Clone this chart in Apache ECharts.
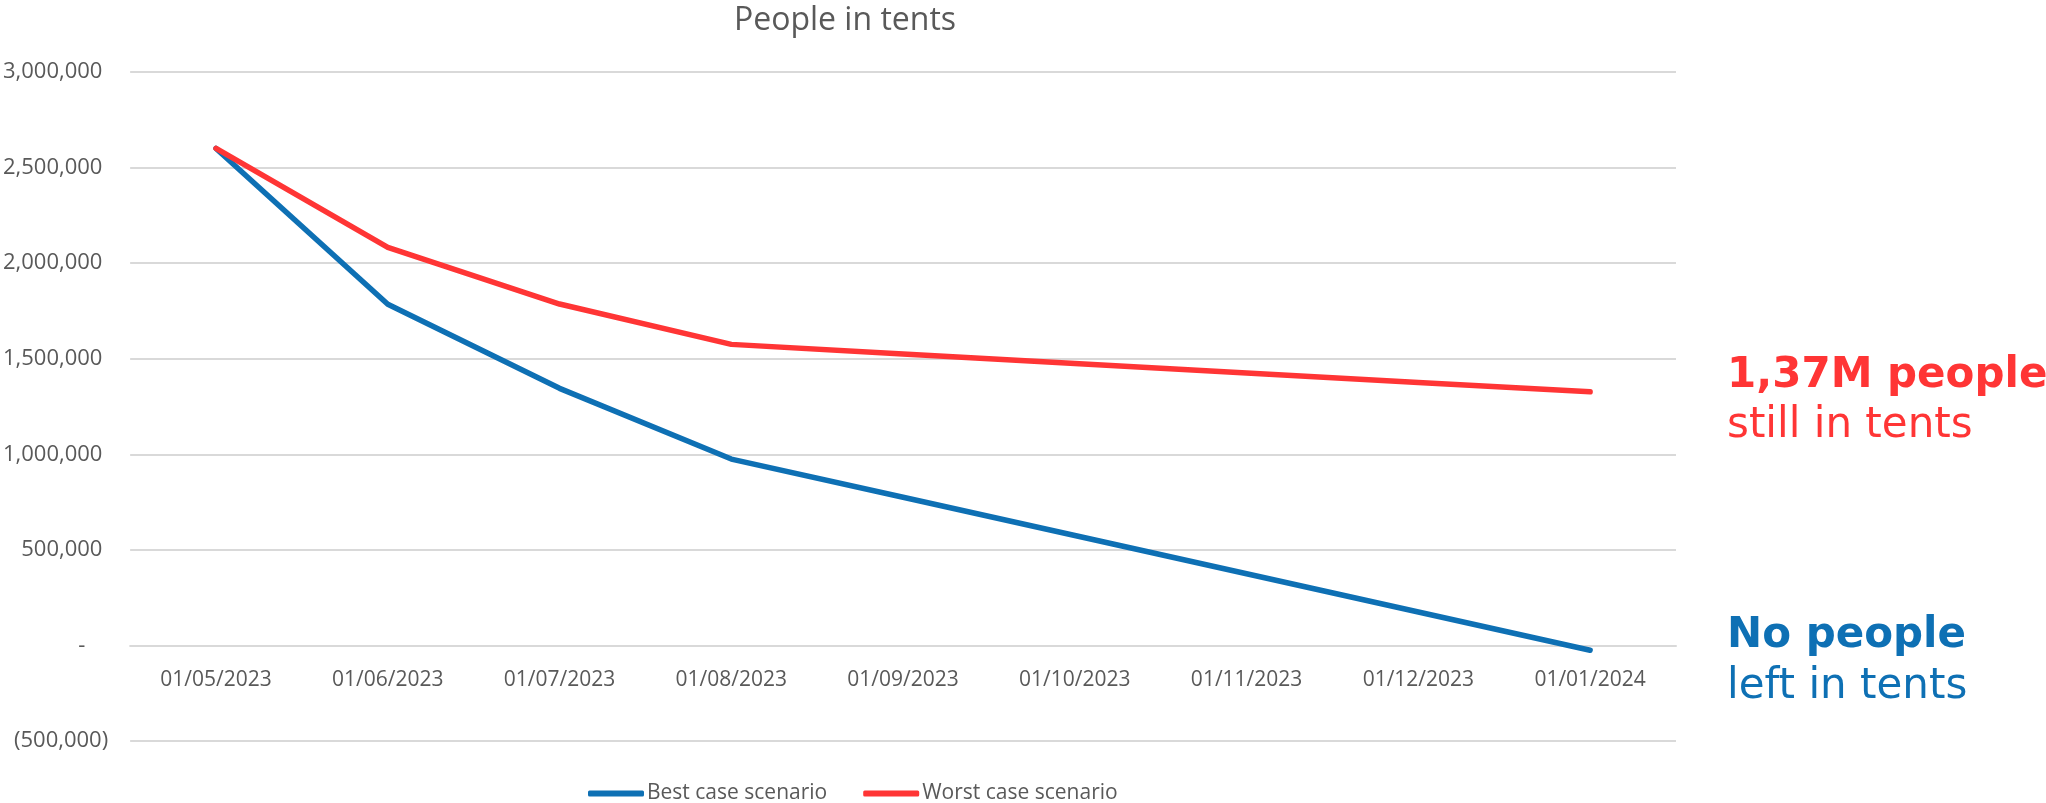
<!DOCTYPE html>
<html>
<head>
<meta charset="utf-8">
<title>People in tents</title>
<script src="https://cdn.jsdelivr.net/npm/echarts@6.0.0/dist/echarts.min.js"></script>
<style>
  html, body { margin: 0; padding: 0; background: #fff; }
  #main { width: 2046px; height: 803px; }
</style>
</head>
<body>
<div id="main"></div>
<script>
var categories = [
  "01/05/2023", "01/06/2023", "01/07/2023", "01/08/2023", "01/09/2023",
  "01/10/2023", "01/11/2023", "01/12/2023", "01/01/2024"
];
var bestCase = [2600000, 1785000, 1345000, 975000, 775000, 575000, 375000, 175000, -25000];
var worstCase = [2600000, 2083000, 1786000, 1575000, 1525000, 1475000, 1425000, 1376000, 1327000];
var seriesNames = ["Best case scenario", "Worst case scenario"];
var yMin = -500000;
var yMax = 3000000;

var BLUE = "#0e70b4";
var RED = "#ff3535";
var TEXT = "#595959";
var FONT = "'Open Sans', sans-serif";
var NOTE_FONT = "'DejaVu Sans', Verdana, sans-serif";

var GRID_TOP = 72;
var GRID_BOTTOM = 62;
var CHART_H = 803;

var fmtNum = v => {
  if (v === 0) return "-    ";
  var s = Math.abs(v).toString().replace(/\B(?=(\d{3})+(?!\d))/g, ",");
  return v < 0 ? "(" + s + ")" : s + " ";
};

// x axis sits on the zero line, like in Excel
var plotH = CHART_H - GRID_TOP - GRID_BOTTOM;
var zeroOffset = -plotH * (0 - yMin) / (yMax - yMin);

var noteText = (text, x, y, color, bold) => ({
  type: "text",
  x: x,
  y: y,
  style: {
    text: text,
    fill: color,
    font: (bold ? "bold " : "") + "42px " + NOTE_FONT,
    verticalAlign: "middle",
    align: "left"
  }
});

var myChart = echarts.init(document.getElementById("main"));
var option = {
  animation: false,
  title: {
    text: "People in tents",
    left: 840,
    top: 0,
    textAlign: "center",
    textStyle: { color: TEXT, fontFamily: FONT, fontSize: 32, fontWeight: "normal" }
  },
  legend: {
    data: seriesNames,
    top: 778,
    left: 583,
    icon: "roundRect",
    itemWidth: 56,
    itemHeight: 6,
    itemGap: 36,
    textStyle: { color: TEXT, fontFamily: FONT, fontSize: 21, padding: [0, 0, 0, -2] }
  },
  grid: {
    left: 128,
    right: 370,
    top: GRID_TOP,
    bottom: GRID_BOTTOM,
    containLabel: false
  },
  xAxis: {
    type: "category",
    boundaryGap: true,
    data: categories,
    offset: zeroOffset,
    axisTick: { show: false },
    axisLine: { onZero: false, lineStyle: { color: "#d9d9d9", width: 2 } },
    axisLabel: { color: TEXT, fontFamily: FONT, fontSize: 21, margin: 24 }
  },
  yAxis: {
    type: "value",
    min: yMin,
    max: yMax,
    interval: 500000,
    axisLine: { show: false },
    axisTick: { show: false },
    splitLine: { lineStyle: { color: "#d9d9d9", width: 2 } },
    axisLabel: {
      color: TEXT,
      fontFamily: FONT,
      fontSize: 22,
      margin: 22,
      formatter: fmtNum
    }
  },
  series: [
    {
      name: seriesNames[0],
      type: "line",
      data: bestCase,
      symbol: "none",
      color: BLUE,
      lineStyle: { width: 5.5, color: BLUE, cap: "round", join: "round" },
      z: 3
    },
    {
      name: seriesNames[1],
      type: "line",
      data: worstCase,
      symbol: "none",
      color: RED,
      lineStyle: { width: 5.5, color: RED, cap: "round", join: "round" },
      z: 4
    }
  ],
  graphic: [
    noteText("1,37M people", 1727, 376, RED, true),
    noteText("still in tents", 1727, 426, RED, false),
    noteText("No people", 1727, 636, BLUE, true),
    noteText("left in tents", 1727, 687, BLUE, false)
  ]
};
myChart.setOption(option);
</script>
</body>
</html>
